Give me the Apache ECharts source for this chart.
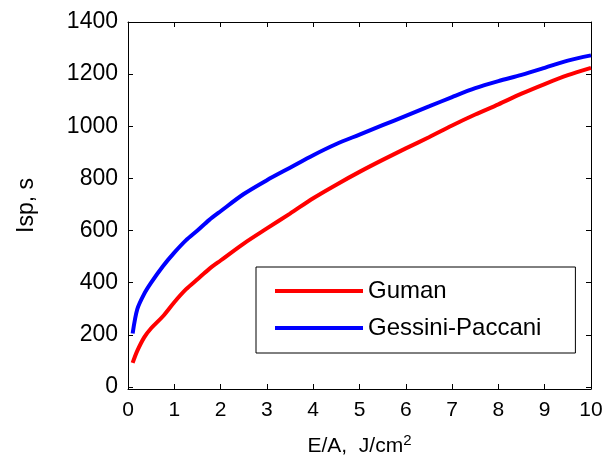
<!DOCTYPE html>
<html>
<head>
<meta charset="utf-8">
<script src="https://cdn.jsdelivr.net/npm/echarts@6/dist/echarts.min.js"></script>
<style>
  html, body { margin: 0; padding: 0; background: #fff; }
  #chart { width: 614px; height: 463px; }
</style>
</head>
<body>
<div id="chart"></div>
<script>
// energy density E/A, J/cm2
var energy = [0.1, 0.2, 0.35, 0.5, 0.75, 1, 1.25, 1.5, 1.75, 2, 2.5, 3, 3.5, 4, 4.5, 5, 5.5, 6, 6.5, 7, 7.5, 8, 8.5, 9, 9.5, 10];
// Isp, s
var guman = [92, 138, 190, 225, 270, 325, 374, 413, 452, 485, 550, 608, 665, 724, 776, 825, 871, 915, 958, 1003, 1045, 1084, 1125, 1162, 1196, 1224];
var gessini = [205, 298, 357, 400, 462, 515, 562, 600, 640, 674, 740, 793, 841, 889, 932, 968, 1004, 1040, 1076, 1112, 1146, 1173, 1197, 1224, 1252, 1272];
var xTicks = [0, 1, 2, 3, 4, 5, 6, 7, 8, 9, 10];
var yTicks = [0, 200, 400, 600, 800, 1000, 1200, 1400];

function pairs(ys) {
    return energy.map(function (x, i) { return [x, ys[i]]; });
}

var font = 'Liberation Sans, Arial, sans-serif';
var axisLine = { show: true, onZero: false, lineStyle: { color: '#000', width: 1 } };
var tick = { show: true, inside: true, length: 5, lineStyle: { color: '#000' } };

var option = {
    animation: false,
    backgroundColor: '#fff',
    textStyle: { fontFamily: font },
    grid: { left: 128, top: 22, right: 23, bottom: 74 },
    legend: {
        orient: 'vertical',
        left: 256,
        top: 267,
        padding: [12, 34, 13, 17],
        itemGap: 13,
        itemWidth: 88,
        itemHeight: 24,
        borderColor: '#000',
        borderWidth: 1,
        borderRadius: 0,
        itemStyle: { opacity: 0 },
        lineStyle: { width: 4 },
        textStyle: { fontSize: 24, color: '#000', fontFamily: font },
        data: ['Guman', 'Gessini-Paccani']
    },
    xAxis: [
        {
            type: 'value', min: 0, max: 10,
            name: 'E/A,  J/cm{sup|2}',
            nameLocation: 'middle', nameGap: 44,
            nameTextStyle: {
                fontSize: 21, color: '#000', fontFamily: font,
                rich: { sup: { fontSize: 15, verticalAlign: 'top', padding: [0, 0, 12, 0], color: '#000' } }
            },
            axisLine: axisLine,
            axisTick: Object.assign({ customValues: xTicks }, tick),
            axisLabel: { customValues: xTicks, fontSize: 21, color: '#000', margin: 11, fontFamily: font },
            splitLine: { show: false }
        },
        {
            type: 'value', min: 0, max: 10, position: 'top',
            axisLine: axisLine,
            axisTick: Object.assign({ customValues: xTicks }, tick),
            axisLabel: { show: false }, splitLine: { show: false }
        }
    ],
    yAxis: [
        {
            type: 'value', min: -8, max: 1400,
            name: 'Isp, s',
            nameLocation: 'middle', nameGap: 90,
            nameTextStyle: { fontSize: 23, color: '#000', fontFamily: font },
            axisLine: axisLine,
            axisTick: Object.assign({ customValues: yTicks }, tick),
            axisLabel: {
                customValues: yTicks, fontSize: 23, color: '#000', margin: 10, fontFamily: font,
                padding: [0, 0, 10, 0],
                formatter: function (v) { return String(v); }
            },
            splitLine: { show: false }
        },
        {
            type: 'value', min: -8, max: 1400, position: 'right',
            axisLine: axisLine,
            axisTick: Object.assign({ customValues: yTicks }, tick),
            axisLabel: { show: false }, splitLine: { show: false }
        }
    ],
    series: [
        {
            name: 'Guman', type: 'line', data: pairs(guman),
            symbol: 'none', smooth: 0.3,
            lineStyle: { color: '#ff0000', width: 4 },
            itemStyle: { color: '#ff0000' }
        },
        {
            name: 'Gessini-Paccani', type: 'line', data: pairs(gessini),
            symbol: 'none', smooth: 0.3,
            lineStyle: { color: '#0000ff', width: 4 },
            itemStyle: { color: '#0000ff' }
        }
    ]
};

var myChart = echarts.init(document.getElementById('chart'));
myChart.setOption(option);
</script>
</body>
</html>
